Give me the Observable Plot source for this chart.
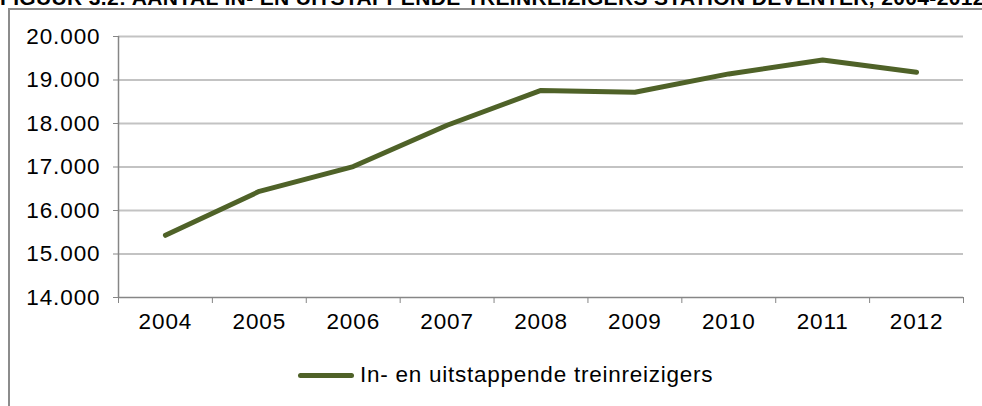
<!DOCTYPE html>
<html>
<head>
<meta charset="utf-8">
<script src="https://cdn.jsdelivr.net/npm/d3@7"></script>
<script src="https://cdn.jsdelivr.net/npm/@observablehq/plot@0.6"></script>
<style>
  html, body { margin: 0; padding: 0; background: #fff; overflow: hidden; }
  #wrap { position: relative; width: 982px; height: 406px; overflow: hidden; font-family: "Liberation Sans", Arial, sans-serif; }
  #title { position: absolute; left: 0; top: -14px; width: 1100px; white-space: nowrap; font-weight: bold; font-size: 21px; line-height: 24px; letter-spacing: 0.35px; color: #000; }
  #frame { position: absolute; left: 8px; top: 8px; width: 980px; height: 410px; border-left: 2px solid #8c8c8c; border-top: 2px solid #8c8c8c; }
  #chart { position: absolute; left: 0; top: 0; }
  #legend { position: absolute; left: 298px; top: 362px; display: flex; align-items: center; font-size: 22.5px; letter-spacing: 0.75px; color: #000; }
  #legend .swatch { width: 56px; height: 5px; border-radius: 3px; background: #4f6228; margin-right: 6px; }
  #chart svg text { letter-spacing: 0.9px; }
</style>
</head>
<body>
<div id="wrap">
  <div id="title"></div>
  <div id="frame"></div>
  <div id="chart"></div>
  <div id="legend"><span class="swatch"></span><span id="legendText"></span></div>
</div>
<script>
const titleText = "FIGUUR 3.2: AANTAL IN- EN UITSTAPPENDE TREINREIZIGERS STATION DEVENTER, 2004-2012";
const seriesName = "In- en uitstappende treinreizigers";
const years = [2004, 2005, 2006, 2007, 2008, 2009, 2010, 2011, 2012];
const values = [15430, 16440, 17010, 17960, 18760, 18720, 19140, 19460, 19180];
const yTicks = [14000, 15000, 16000, 17000, 18000, 19000, 20000];

const nl = d3.formatLocale({decimal: ",", thousands: ".", grouping: [3], currency: ["€", ""]});
const fmt = nl.format(",");

const data = years.map((y, i) => ({year: y, value: values[i]}));
const boundaries = [...years.map(y => y - 0.5), years[years.length - 1] + 0.5];

document.getElementById("title").textContent = titleText;
document.getElementById("legendText").textContent = seriesName;

const axisGray = "#868686";
const plot = Plot.plot({
  width: 982,
  height: 406,
  marginLeft: 118,
  marginRight: 19,
  marginTop: 36,
  marginBottom: 109,
  style: {background: "transparent", fontFamily: "'Liberation Sans', Arial, sans-serif"},
  x: {type: "linear", domain: [boundaries[0], boundaries[boundaries.length - 1]]},
  y: {domain: [14000, 20000]},
  marks: [
    Plot.gridY(yTicks.slice(1), {stroke: "#c3c3c3", strokeOpacity: 1, strokeWidth: 2}),
    Plot.ruleX([boundaries[0]], {y1: 14000, y2: 20000, stroke: axisGray, strokeWidth: 1.5}),
    Plot.ruleY([14000], {stroke: axisGray, strokeWidth: 1.5}),
    Plot.axisY({ticks: yTicks, tickSize: 5, tickPadding: 13, tickFormat: fmt, stroke: axisGray, fill: "#000", fontSize: 22.5, label: null}),
    Plot.axisX({ticks: boundaries, tickSize: 6, tickFormat: () => "", stroke: axisGray, label: null}),
    Plot.axisX({ticks: years, tickSize: 0, tickPadding: 16, tickFormat: d => String(d), fill: "#000", fontSize: 22.5, label: null}),
    Plot.line(data, {x: "year", y: "value", stroke: "#4f6228", strokeWidth: 5, strokeLinecap: "round", strokeLinejoin: "round"})
  ]
});
document.getElementById("chart").appendChild(plot);
</script>
</body>
</html>
